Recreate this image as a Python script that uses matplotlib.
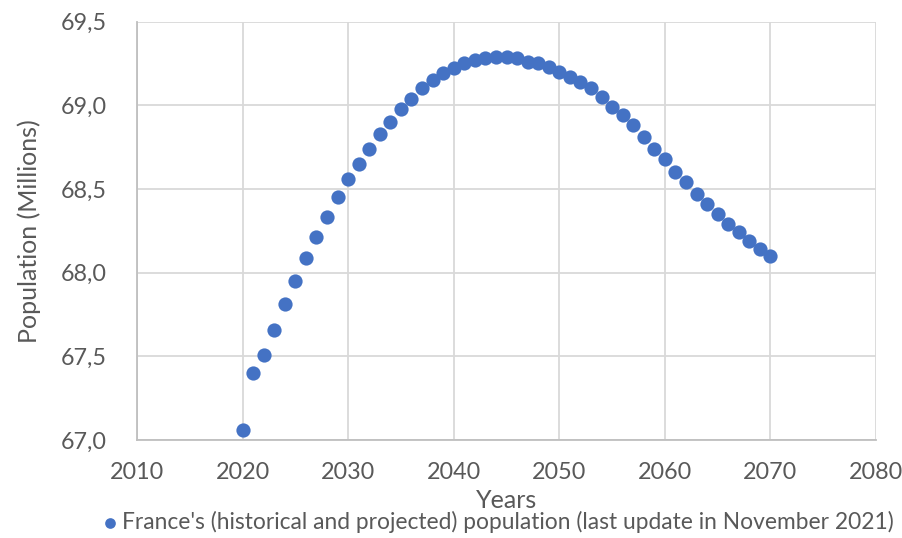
import matplotlib
matplotlib.use("Agg")
import matplotlib.pyplot as plt
from matplotlib.ticker import FixedLocator

plt.rcParams['font.family'] = ['Lato', 'DejaVu Sans']

years = list(range(2020, 2071))
population = [
    67.06, 67.40, 67.51, 67.66, 67.81, 67.95, 68.09, 68.21, 68.33, 68.45,
    68.56, 68.65, 68.74, 68.83, 68.90, 68.98, 69.04, 69.10, 69.15, 69.19,
    69.22, 69.25, 69.27, 69.28, 69.29, 69.29, 69.28, 69.26, 69.25, 69.23,
    69.20, 69.17, 69.14, 69.10, 69.05, 68.99, 68.94, 68.88, 68.81, 68.74,
    68.68, 68.60, 68.54, 68.47, 68.41, 68.35, 68.29, 68.24, 68.19, 68.14,
    68.10,
]
x_ticks = [2010, 2020, 2030, 2040, 2050, 2060, 2070, 2080]
y_ticks = [67.0, 67.5, 68.0, 68.5, 69.0, 69.5]
y_tick_labels = ["67,0", "67,5", "68,0", "68,5", "69,0", "69,5"]
series_label = "France's (historical and projected) population (last update in November 2021)"

W, H = 902, 538
fig = plt.figure(figsize=(W / 100, H / 100), dpi=100)
ax = fig.add_axes([137 / W, 1 - 440 / H, (876 - 137) / W, (440 - 21.5) / H])

text_color = "#595959"
grid_color = "#D9D9D9"
blue = "#4472C4"

ax.scatter(years, population, s=105, color=blue, zorder=3, linewidths=0,
           label=series_label, clip_on=False)

ax.set_xlim(x_ticks[0], x_ticks[-1])
ax.set_ylim(y_ticks[0], y_ticks[-1])
ax.xaxis.set_major_locator(FixedLocator(x_ticks))
ax.set_yticks(y_ticks)
ax.set_yticklabels(y_tick_labels)

ax.grid(True, color=grid_color, linewidth=1.3, zorder=0)
ax.set_axisbelow(True)
for side in ["top", "right"]:
    ax.spines[side].set_visible(False)
for side in ["left", "bottom"]:
    ax.spines[side].set_color("#BFBFBF")
    ax.spines[side].set_linewidth(1.3)

ax.tick_params(axis="both", length=0, labelsize=16.8, labelcolor=text_color)
ax.tick_params(axis="y", pad=22)
ax.tick_params(axis="x", pad=16)

ax.set_xlabel("Years", fontsize=18, color=text_color, labelpad=4)
ax.set_ylabel("Population (Millions)", fontsize=18, color=text_color, labelpad=14)

fig.legend(loc="center", bbox_to_anchor=(496 / W, 1 - 522 / H), frameon=False,
           fontsize=16.4, labelcolor=text_color, handletextpad=0.05,
           borderpad=0, handlelength=1.0, markerscale=0.75)

fig.savefig("out.png", dpi=100)
